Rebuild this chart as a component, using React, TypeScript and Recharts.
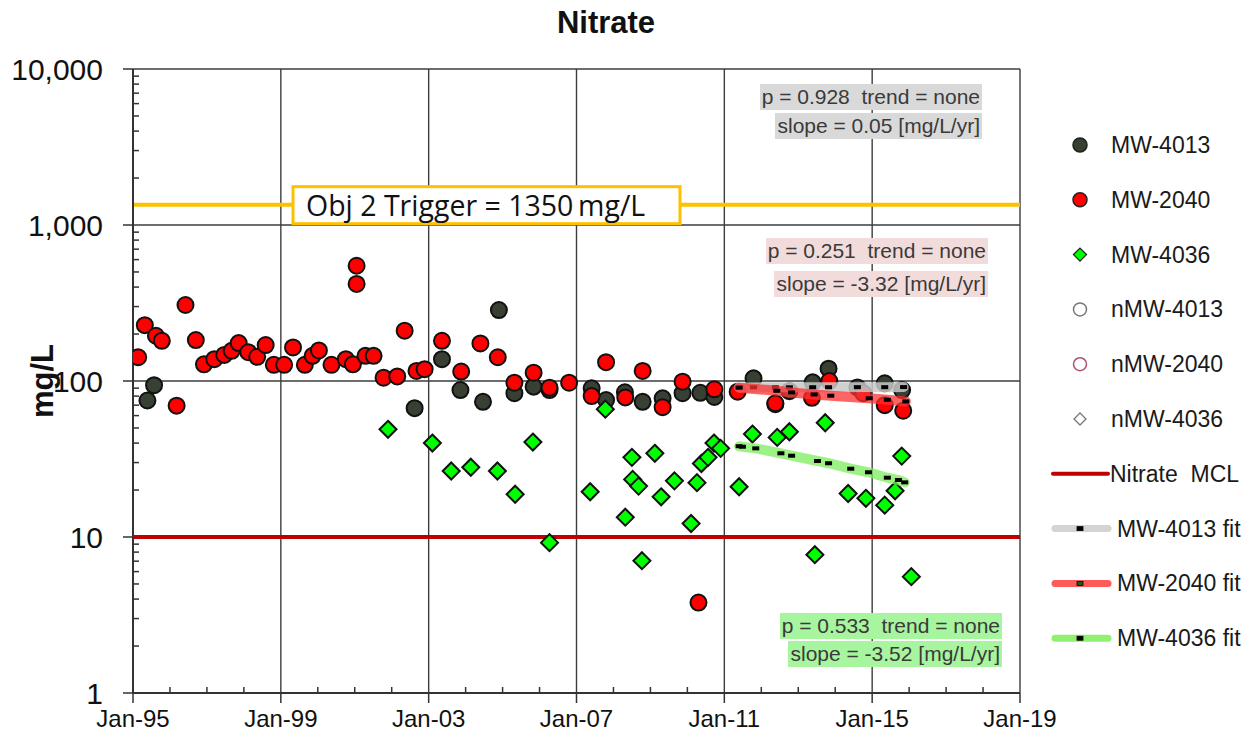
import React from "react";
import {
  ComposedChart,
  Scatter,
  XAxis,
  YAxis,
  CartesianGrid,
  ReferenceLine,
  Legend,
} from "recharts";

// sample dates are decimal years, values in mg/L
const mw4013: [number, number][] = [
  [1995.39, 75], [1995.57, 94], [2002.62, 67], [2003.36, 138], [2003.86, 87.5],
  [2004.47, 73.6], [2004.9, 285], [2005.32, 83.5], [2005.84, 92], [2006.27, 87.5],
  [2007.41, 89.8], [2007.8, 75.5], [2008.31, 84.7], [2008.79, 73.6], [2009.33, 77.4],
  [2009.87, 83.5], [2010.35, 84], [2010.73, 79], [2011.79, 104], [2012.38, 71],
  [2012.76, 86], [2013.39, 98], [2013.82, 120], [2014.6, 91], [2015.34, 96.7],
  [2015.81, 87.5],
];

const mw2040: [number, number][] = [
  [1995.14, 142], [1995.32, 228], [1995.62, 195], [1995.78, 181], [1996.18, 69.5],
  [1996.42, 307], [1996.7, 183], [1996.92, 128], [1997.2, 138], [1997.47, 147],
  [1997.67, 156], [1997.86, 175], [1998.12, 153], [1998.36, 143], [1998.59, 170],
  [1998.81, 127], [1999.09, 127], [1999.33, 164], [1999.65, 127], [1999.86, 145],
  [2000.03, 157], [2000.37, 127], [2000.76, 138], [2000.95, 128], [2001.05, 548],
  [2001.05, 419], [2001.29, 145], [2001.51, 145], [2001.78, 105], [2002.15, 107],
  [2002.35, 210], [2002.67, 116], [2002.89, 119], [2003.36, 181], [2003.88, 115],
  [2004.4, 174], [2004.87, 142], [2005.32, 97.5], [2005.84, 113], [2006.27, 90.6],
  [2006.8, 97.5], [2007.41, 80], [2007.8, 132], [2008.32, 78.5], [2008.79, 116],
  [2009.33, 68], [2009.87, 99], [2010.3, 3.8], [2010.73, 88.5], [2011.36, 85.4],
  [2012.38, 72], [2013.37, 78], [2013.84, 100], [2014.76, 83.5], [2015.34, 70],
  [2015.84, 64.5],
];

const mw4036: [number, number][] = [
  [2001.9, 49], [2003.1, 40], [2003.61, 26.5], [2004.14, 28], [2004.86, 26.5],
  [2005.34, 18.8], [2005.82, 40.6], [2006.27, 9.2], [2007.37, 19.5], [2007.78, 66],
  [2008.32, 13.4], [2008.5, 32.4], [2008.52, 23.4], [2008.68, 21.2], [2008.77, 7.05],
  [2009.12, 34.4], [2009.29, 18.1], [2009.65, 22.9], [2010.1, 12.2], [2010.26, 22.3],
  [2010.38, 29.6], [2010.56, 32.4], [2010.72, 40], [2010.9, 37], [2011.4, 21],
  [2011.76, 45.7], [2012.43, 43.5], [2012.76, 47.3], [2013.45, 7.7], [2013.73, 54],
  [2014.35, 19], [2014.83, 17.7], [2015.34, 16], [2015.62, 19.8], [2015.8, 33],
  [2016.06, 5.57],
];

const mw4013Fit: [number, number][] = [
  [2011.4, 91.0], [2011.79, 91.0], [2012.38, 91.1], [2012.76, 91.1], [2013.39, 91.2],
  [2013.82, 91.2], [2014.6, 91.3], [2015.34, 91.3], [2015.85, 91.4],
];

const mw2040Fit: [number, number][] = [
  [2011.4, 90.6], [2012.42, 86.5], [2012.82, 84.5], [2013.43, 82], [2013.88, 80.5],
  [2014.92, 77.5], [2015.41, 75.8], [2015.91, 74],
];

const mw4036Fit: [number, number][] = [
  [2011.4, 38.2], [2011.49, 37.9], [2011.85, 37.0], [2012.53, 34.4], [2012.82, 33.2],
  [2013.52, 30.7], [2013.82, 29.7], [2014.42, 27.4], [2014.9, 26.0], [2015.41, 24.0],
  [2015.71, 23.2], [2015.88, 22.4],
];

const nitrateMcl = 10;
const triggerValue = 1350;
const triggerText = "Obj 2 Trigger = 1350\u2009mg/L";

const yearTicks = [1995, 1999, 2003, 2007, 2011, 2015, 2019];
const minorYearTicks = [
  1996, 1997, 1998, 2000, 2001, 2002, 2004, 2005, 2006, 2008, 2009, 2010,
  2012, 2013, 2014, 2016, 2017, 2018,
];
const yTicks = [1, 10, 100, 1000, 10000];
const yMinorTicks = [
  2, 3, 4, 5, 6, 7, 8, 9, 20, 30, 40, 50, 60, 70, 80, 90,
  200, 300, 400, 500, 600, 700, 800, 900, 2000, 3000, 4000, 5000, 6000, 7000, 8000, 9000,
];

const legendNames = [
  "MW-4013", "MW-2040", "MW-4036", "nMW-4013", "nMW-2040", "nMW-4036",
  "Nitrate  MCL", "MW-4013 fit", "MW-2040 fit", "MW-4036 fit",
];

const statsGray = ["p = 0.928  trend = none", "slope = 0.05 [mg/L/yr]"];
const statsRed = ["p = 0.251  trend = none", "slope = -3.32 [mg/L/yr]"];
const statsGreen = ["p = 0.533  trend = none", "slope = -3.52 [mg/L/yr]"];

const DARK = "#384034";
const FONT = "'Liberation Sans', Arial, sans-serif";

const toPoints = (arr: [number, number][]) => arr.map(([x, y]) => ({ x, y }));

// minor ticks sit on the axes: yearly along the bottom, 2..9 per decade on the left
const minorXPoints = minorYearTicks.map((x) => ({ x, y: yTicks[0] }));
const minorYPoints = yMinorTicks.map((y) => ({ x: yearTicks[0], y }));

const CircleDot = (fill: string) => (props: any) => (
  <circle cx={props.cx} cy={props.cy} r={8} fill={fill} stroke="#111" strokeWidth={2} />
);

const Diamond = (props: any) => {
  const { cx, cy } = props;
  const s = 8.5;
  return (
    <polygon
      points={`${cx},${cy - s} ${cx + s},${cy} ${cx},${cy + s} ${cx - s},${cy}`}
      fill="#00ff00"
      stroke="#111"
      strokeWidth={2}
    />
  );
};

const FitDash = (props: any) => (
  <rect x={props.cx - 3.5} y={props.cy - 2} width={7} height={4} fill="#000" />
);

const MinorXMark = (props: any) => (
  <line x1={props.cx} x2={props.cx} y1={props.cy} y2={props.cy - 6} stroke="#333" strokeWidth={1.5} />
);

const MinorYMark = (props: any) => (
  <line x1={props.cx} x2={props.cx + 6} y1={props.cy} y2={props.cy} stroke="#333" strokeWidth={1.5} />
);

const XTick = (props: any) => {
  const { x, y, payload } = props;
  const v = payload.value;
  return (
    <g>
      <line x1={x} x2={x} y1={y} y2={y + 10} stroke="#333" strokeWidth={1.5} />
      <text
        x={x}
        y={y + 17}
        dy="0.71em"
        textAnchor="middle"
        fontFamily={FONT}
        fontSize={24}
        fill="#111"
      >
        {`Jan-${String(v % 100).padStart(2, "0")}`}
      </text>
    </g>
  );
};

const YTick = (props: any) => {
  const { x, y, payload } = props;
  const v = payload.value;
  return (
    <g>
      <line x1={x - 10} x2={x} y1={y} y2={y} stroke="#333" strokeWidth={1.5} />
      <text
        x={x - 30}
        y={y}
        dy="0.36em"
        textAnchor="end"
        fontFamily={FONT}
        fontSize={30}
        fill="#111"
      >
        {v.toLocaleString("en-US")}
      </text>
    </g>
  );
};

const TriggerLabel = (props: any) => {
  const { viewBox } = props;
  const x = viewBox.x + 160;
  const y = viewBox.y - 18;
  return (
    <g>
      <rect x={x} y={y} width={387} height={37} fill="#fff" stroke="#ffc000" strokeWidth={3} />
      <text
        x={x + 13}
        y={y + 29}
        fontFamily="'Open Sans', Lato, sans-serif"
        fontSize={28.5}
        fill="#111"
      >
        {triggerText}
      </text>
    </g>
  );
};

const YLabel = (props: any) => {
  const { viewBox } = props;
  const cx = 42;
  const cy = viewBox.y + viewBox.height / 2;
  return (
    <text
      x={cx}
      y={cy}
      transform={`rotate(-90 ${cx} ${cy})`}
      textAnchor="middle"
      dominantBaseline="central"
      fontFamily={FONT}
      fontWeight="bold"
      fontSize={31}
      fill="#111"
    >
      mg/L
    </text>
  );
};

const LegendIcon = ({ name, cy }: { name: string; cy: number }) => {
  const cx = 40;
  switch (name) {
    case "MW-4013":
      return <circle cx={cx} cy={cy} r={7} fill={DARK} stroke="#1d211b" strokeWidth={1.5} />;
    case "MW-2040":
      return <circle cx={cx} cy={cy} r={7} fill="#ff0000" stroke="#222" strokeWidth={1.5} />;
    case "MW-4036":
      return (
        <polygon
          points={`${cx},${cy - 6.5} ${cx + 6.5},${cy} ${cx},${cy + 6.5} ${cx - 6.5},${cy}`}
          fill="#00ff00"
          stroke="#222"
          strokeWidth={1.3}
        />
      );
    case "nMW-4013":
      return <circle cx={cx} cy={cy} r={6.5} fill="#fff" stroke="#777" strokeWidth={1.5} />;
    case "nMW-2040":
      return <circle cx={cx} cy={cy} r={6.5} fill="#fff" stroke="#b05070" strokeWidth={1.5} />;
    case "nMW-4036":
      return (
        <polygon
          points={`${cx},${cy - 6} ${cx + 6},${cy} ${cx},${cy + 6} ${cx - 6},${cy}`}
          fill="#fff"
          stroke="#777"
          strokeWidth={1.3}
        />
      );
    case "Nitrate  MCL":
      return <line x1={13} x2={68} y1={cy} y2={cy} stroke="#c00000" strokeWidth={4} strokeLinecap="round" />;
    default: {
      const col =
        name === "MW-4013 fit" ? "#d4d4d4" : name === "MW-2040 fit" ? "#ff5a5a" : "#90f070";
      return (
        <g>
          <line x1={15} x2={68} y1={cy} y2={cy} stroke={col} strokeWidth={7} strokeLinecap="round" />
          <rect x={37} y={cy - 2} width={6} height={4} fill={name === "MW-2040 fit" ? "#1a5a1a" : "#000"} stroke="#000" strokeWidth={0.8} />
        </g>
      );
    }
  }
};

const LegendBox = () => (
  <svg width={210} height={560}>
    {legendNames.map((name, i) => {
      const cy = 30 + i * 54.8;
      const isLine = i >= 6;
      return (
        <g key={name}>
          <LegendIcon name={name} cy={cy} />
          <text
            x={i >= 7 ? 77 : isLine ? 70 : 71}
            y={cy + 8}
            fontFamily={FONT}
            fontSize={23}
            fill="#1a1a1a"
            style={{ whiteSpace: "pre" }}
          >
            {name}
          </text>
        </g>
      );
    })}
  </svg>
);

const StatBox = ({
  lines,
  right,
  top,
  gap,
  bg,
}: {
  lines: string[];
  right: number;
  top: number;
  gap: number;
  bg: string;
}) => (
  <div style={{ position: "absolute", left: right - 300, width: 300, top }}>
    {lines.map((t) => (
      <div key={t} style={{ display: "flex", justifyContent: "flex-end", height: gap }}>
        <span
          style={{
            background: bg,
            fontFamily: FONT,
            fontSize: 21,
            lineHeight: "26px",
            height: 26,
            padding: "0 2px",
            color: "#3a3a3a",
            whiteSpace: "pre",
          }}
        >
          {t}
        </span>
      </div>
    ))}
  </div>
);

export default function App() {
  return (
    <div style={{ position: "absolute", left: 0, top: 0, width: 1250, height: 737, background: "#fff" }}>
      <div
        style={{
          position: "absolute",
          left: 456,
          width: 300,
          top: 5,
          textAlign: "center",
          fontFamily: FONT,
          fontWeight: "bold",
          fontSize: 31,
          color: "#111",
        }}
      >
        Nitrate
      </div>
      <ComposedChart
        width={1250}
        height={737}
        margin={{ top: 69, right: 230, bottom: 0, left: 0 }}
      >
        <CartesianGrid stroke="#3c3c3c" strokeWidth={1.4} />
        <XAxis
          dataKey="x"
          type="number"
          domain={[1995, 2019]}
          allowDataOverflow
          ticks={yearTicks}
          interval={0}
          height={44}
          tickSize={0}
          tickMargin={0}
          axisLine={{ stroke: "#333", strokeWidth: 2 }}
          tickLine={false}
          tick={<XTick />}
        />
        <YAxis
          dataKey="y"
          type="number"
          scale="log"
          domain={[1, 10000]}
          allowDataOverflow
          ticks={yTicks}
          interval={0}
          width={133}
          tickSize={0}
          tickMargin={0}
          axisLine={{ stroke: "#333", strokeWidth: 2 }}
          tickLine={false}
          tick={<YTick />}
          label={<YLabel />}
        />
        <ReferenceLine y={nitrateMcl} stroke="#c00000" strokeWidth={4} />
        <ReferenceLine y={triggerValue} stroke="#ffc000" strokeWidth={4} label={<TriggerLabel />} />
        <Scatter
          name="minor x"
          data={minorXPoints}
          dataKey="y"
          shape={MinorXMark}
          legendType="none"
          isAnimationActive={false}
        />
        <Scatter
          name="minor y"
          data={minorYPoints}
          dataKey="y"
          shape={MinorYMark}
          legendType="none"
          isAnimationActive={false}
        />
        <Scatter
          name="MW-4013"
          data={toPoints(mw4013)}
          dataKey="y"
          shape={CircleDot(DARK)}
          isAnimationActive={false}
        />
        <Scatter
          name="MW-2040"
          data={toPoints(mw2040)}
          dataKey="y"
          shape={CircleDot("#ff0000")}
          isAnimationActive={false}
        />
        <Scatter
          name="MW-4036"
          data={toPoints(mw4036)}
          dataKey="y"
          shape={Diamond}
          isAnimationActive={false}
        />
        <Scatter
          name="MW-4013 fit"
          data={toPoints(mw4013Fit)}
          dataKey="y"
          line={{ stroke: "#c8c8c8", strokeWidth: 10, strokeOpacity: 0.85, strokeLinecap: "round" }}
          shape={FitDash}
          isAnimationActive={false}
        />
        <Scatter
          name="MW-2040 fit"
          data={toPoints(mw2040Fit)}
          dataKey="y"
          line={{ stroke: "#ff3030", strokeWidth: 10, strokeOpacity: 0.75, strokeLinecap: "round" }}
          shape={FitDash}
          isAnimationActive={false}
        />
        <Scatter
          name="MW-4036 fit"
          data={toPoints(mw4036Fit)}
          dataKey="y"
          line={{ stroke: "#7cee5c", strokeWidth: 10, strokeOpacity: 0.75, strokeLinecap: "round" }}
          shape={FitDash}
          isAnimationActive={false}
        />
        <Legend
          layout="vertical"
          align="center"
          verticalAlign="middle"
          content={() => <LegendBox />}
          wrapperStyle={{ left: 1040, top: 115, width: 210, height: 560 }}
        />
      </ComposedChart>
      <StatBox lines={statsGray} right={982} top={84} gap={29} bg="#d9d9d9" />
      <StatBox lines={statsRed} right={988} top={238} gap={33} bg="#f2dcdb" />
      <StatBox lines={statsGreen} right={1002} top={613} gap={28} bg="#a8f5a0" />
    </div>
  );
}
